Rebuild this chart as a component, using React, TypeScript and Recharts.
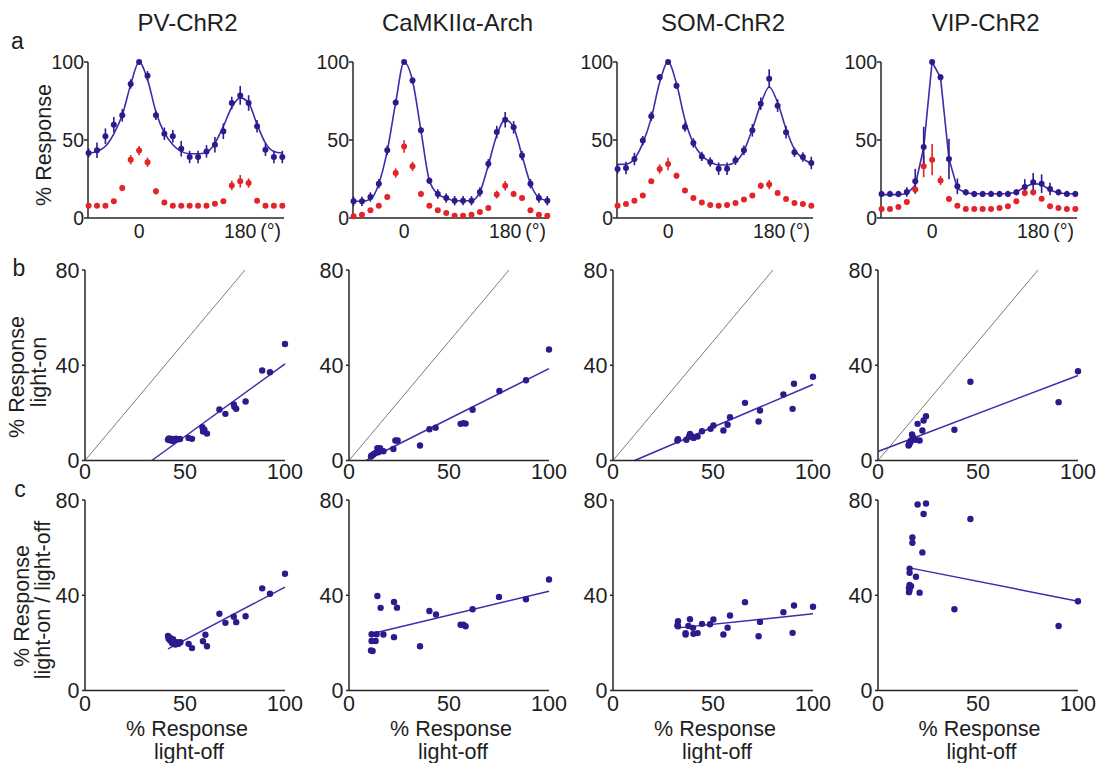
import React from 'react';
import { ComposedChart, Line, Scatter, XAxis, YAxis, ErrorBar } from 'recharts';

// ---------- shared values ----------
const ANGLES = [-90, -75, -60, -45, -30, -15, 0, 15, 30, 45, 60, 75, 90, 105, 120, 135, 150, 165, 180, 195, 210, 225, 240, 255];
const TUNING_X_TICKS = [0, 180];
const TUNING_Y_TICKS = [0, 50, 100];
const SCATTER_TICKS_X = [0, 50, 100];
const SCATTER_TICKS_Y = [0, 40, 80];
const TITLES = ['PV-ChR2', 'CaMKIIα-Arch', 'SOM-ChR2', 'VIP-ChR2'];

// ---------- row a: tuning curves ----------
const pvBlue = [41.7, 43.4, 52.4, 59.8, 65.8, 85.9, 100, 91.2, 65.8, 54, 52.4, 44.4, 39.1, 39.1, 42.7, 47, 55.6, 73.7, 78.6, 73.7, 58.8, 43.8, 39.1, 39.1];
const pvBlueErr = [3, 5, 5, 5, 4, 3, 0, 3, 3, 4, 4, 5, 4, 4, 4, 5, 5, 4, 6, 5, 4, 4, 4, 4];
const pvRed = [7.9, 7.9, 7.9, 10.7, 19.2, 37.4, 43.2, 35.7, 17.1, 10, 7.9, 7.9, 7.9, 7.9, 7.9, 9.2, 10.7, 20.9, 23.5, 22.4, 11.1, 7.9, 7.9, 7.9];
const pvRedErr = [1, 1, 1, 1.5, 2, 3, 3, 3, 2, 1.5, 1, 1, 1, 1, 1, 1, 1.5, 3, 4, 3, 1.5, 1, 1, 1];
const pvFit = [41.7, 42.7, 46, 54, 66, 85.5, 100, 88.7, 68, 54.5, 47, 42.7, 41.2, 41.2, 42, 48, 58.8, 71, 77, 73.7, 60, 48, 42.7, 41.7];

const camBlue = [10.7, 10.7, 13.5, 22, 43.4, 74.1, 100, 88.2, 56.2, 23.9, 15.4, 12.8, 11.1, 11.1, 11.1, 16.7, 34.8, 55.1, 63, 58.1, 40, 22, 12.8, 11.1];
const camBlueErr = [3, 3, 3, 3, 3, 2, 0, 2, 2, 2, 3, 3, 3, 3, 3, 3, 3, 4, 5, 4, 3, 3, 3, 3];
const camRed = [1.1, 2.1, 4.9, 7.9, 13.5, 28.8, 45.9, 33.1, 15.4, 7.9, 4.9, 3.2, 1.5, 1.5, 2.1, 3.8, 6.4, 15, 20.7, 15.4, 12.8, 4.9, 2.1, 1.5];
const camRedErr = [1, 1, 1, 1.5, 2, 3, 4, 3, 2, 1.5, 1, 1, 1, 1, 1, 1, 1.5, 2.5, 3, 2, 1.5, 1, 1, 1];
const camFit = [10.7, 10.7, 12, 22, 43, 74, 100, 88, 56, 24, 15.4, 12.8, 11.1, 11.1, 11.1, 16.7, 34, 53, 63, 58, 40, 22, 13, 11.1];

const somBlue = [31.4, 32, 37.8, 49.6, 65.2, 90.2, 100, 84.8, 58.3, 48.1, 39.5, 35.9, 31.6, 31.6, 37, 43.4, 56.2, 73.3, 89.3, 72, 54.9, 42.1, 39.1, 35.3];
const somBlueErr = [3, 4, 4, 3, 3, 2, 0, 2, 3, 3, 3, 3, 4, 4, 3, 3, 4, 4, 6, 4, 4, 3, 3, 4];
const somRed = [7.9, 9, 11.1, 14.5, 23.5, 31.4, 34.6, 27.1, 17.7, 12.8, 10, 8.3, 7.9, 8.3, 9.6, 11.8, 14.5, 20.7, 21.4, 16, 12.2, 9.6, 9, 7.9];
const somRedErr = [1, 1, 1, 1, 1.5, 3, 4, 2, 1.5, 1, 1, 1, 1, 1, 1, 1, 1, 2, 3, 1.5, 1, 1, 1, 1];
const somFit = [34.4, 34.5, 38, 48, 64, 87, 100, 86, 63, 48, 40, 36, 34, 34, 36, 43, 57, 73, 84, 74, 57, 44, 38, 35];

const vipBlue = [15.4, 15.4, 15.4, 16.7, 23.5, 45.5, 100, 90.2, 37.8, 20.3, 16.5, 15.4, 15.4, 15.4, 15.4, 15.4, 16.5, 19.9, 22.9, 22, 18.6, 16.5, 15.4, 15.4];
const vipBlueErr = [2, 2, 2, 3, 8, 13, 0, 2, 13, 5, 2, 2, 2, 2, 2, 2, 2, 5, 6, 6, 4, 2, 2, 2];
const vipRed = [5.8, 5.8, 7.1, 10.3, 18.2, 33.1, 37.4, 24.1, 12.2, 7.9, 5.8, 5.8, 5.8, 5.8, 6.4, 7.5, 10.7, 16, 16.5, 12.4, 7.5, 6.4, 5.8, 5.8];
const vipRedErr = [1, 1, 1, 1, 2, 7, 10, 3, 1, 1, 1, 1, 1, 1, 1, 1, 1, 2, 2, 1, 1, 1, 1, 1];
const vipFit = [15, 15, 15, 15.5, 21, 45, 100, 90, 38, 19, 16, 15.5, 15.5, 15.5, 15.5, 15.5, 16.5, 20, 22, 21.5, 18, 16, 15.5, 15.5];

// ---------- row b: light-on vs light-off ----------
const pvOffB = [100, 88.6, 92.5, 80.3, 74.4, 74.7, 75.6, 67.2, 70.2, 58.7, 59.7, 61, 59, 51.8, 53.5, 41.5, 42.5, 43.5, 44.5, 45.5, 46.5, 47.5, 42, 44, 45];
const pvOnB = [48.9, 37.8, 37.1, 24.8, 23.5, 22.6, 21.7, 21.4, 19.6, 14, 12.9, 11.3, 12.2, 9.5, 9.1, 8.7, 8.5, 9, 8.7, 9.2, 8.9, 9, 9.3, 8.2, 8.9];
const pvRegBx = [33.4, 100];
const pvRegBy = [0, 40.6];

const camOffB = [100, 88.5, 75.2, 61.8, 55.8, 57.2, 58.3, 43.3, 40.2, 35.5, 23.2, 24.3, 22.2, 14.2, 15.5, 17.2, 14.7, 13, 11.3, 12.2, 11];
const camOnB = [46.6, 33.7, 29.2, 21.3, 15.4, 15.7, 15.5, 13.8, 13.1, 6.3, 8.4, 8.4, 4.8, 5.2, 5.2, 3.9, 3.5, 3.1, 2.1, 2.5, 1.7];
const camRegBx = [8.5, 100];
const camRegBy = [0, 38.6];

const somOffB = [100, 90.5, 85.2, 89.8, 66, 73.5, 72.8, 58.5, 57.3, 55.2, 50.2, 48.8, 44.5, 42.3, 40.3, 38.5, 39.3, 36.7, 32.5, 32.2, 38];
const somOnB = [35.2, 32.2, 27.7, 21.7, 24.2, 21, 16.4, 18.2, 15, 12.6, 14.7, 13.3, 12.3, 10.1, 9.5, 11.2, 10.2, 8.7, 8.9, 8.4, 10];
const somRegBx = [10.8, 100];
const somRegBy = [0, 31.9];

const vipOffB = [100, 90.3, 46.2, 38.2, 24, 22.8, 19.8, 22.2, 20.8, 18.7, 17, 17.5, 16.2, 15.7, 15.3, 16.5, 15.5];
const vipOnB = [37.5, 24.5, 33.1, 12.9, 18.6, 16.8, 15.4, 12.6, 8.4, 8.7, 10.9, 9.8, 7.7, 7, 6.3, 8.4, 6.8];
const vipRegBx = [0, 100];
const vipRegBy = [3.8, 35.7];

const unityX = [0, 80];
const unityY = [0, 80];

// ---------- row c: ratio vs light-off ----------
const pvOffC = [100, 88.6, 92.5, 80.3, 74.4, 75.6, 67.2, 70.2, 60.2, 59, 61, 51.8, 53.5, 41.5, 41.8, 42.6, 44.3, 46, 45.2, 43.5, 47.7, 46.8, 42.5, 44];
const pvRatioC = [49, 42.9, 40.6, 31.2, 31, 28.7, 32.2, 28.4, 23.4, 20.7, 18.6, 19.6, 17.8, 22.9, 21.7, 21, 20.7, 20.3, 19.3, 19.9, 20.3, 19.6, 22.2, 21.5];
const pvRegCx = [41.5, 100];
const pvRegCy = [17.5, 43.4];

const camOffC = [100, 75, 88.5, 61.8, 55.8, 57.2, 58.3, 40.2, 43.5, 35.5, 22.5, 24, 14.2, 15.8, 22.5, 17.2, 11.3, 13.8, 11.3, 13.3, 11, 11.8];
const camRatioC = [46.6, 39.3, 38.3, 34.1, 27.6, 27.6, 27, 33.4, 31.9, 18.6, 37.2, 34.8, 39.7, 34.7, 22.4, 23.5, 23.6, 23.6, 20.8, 20.8, 16.8, 16.6];
const camRegCx = [11.3, 100];
const camRegCy = [23.8, 41.7];

const somOffC = [100, 90.5, 85.2, 89.8, 66, 73.5, 72.8, 58.5, 57.3, 55.2, 50.2, 48.5, 44.5, 42.3, 40, 40.2, 38.5, 37.7, 36.3, 36.3, 32.5, 32.5, 32.2];
const somRatioC = [35.2, 35.7, 32.9, 24.2, 37.1, 28.8, 22.8, 31.5, 26.4, 23.5, 29.8, 27.8, 28, 24.1, 26.3, 23.8, 29.9, 27.1, 24.1, 23.5, 29.1, 27, 27.3];
const somRegCx = [32.5, 100];
const somRegCy = [26.3, 32.2];

const vipOffC = [100, 90.3, 46.2, 38.2, 24, 19.8, 22.8, 17.2, 17.2, 22.2, 15.8, 15.8, 19, 15.8, 16.5, 15.5, 15.8, 15.5, 20.8];
const vipRatioC = [37.5, 27.1, 72, 34.1, 78.5, 78.1, 74.1, 64.3, 62, 58, 51.2, 49.4, 47.8, 44.3, 43.8, 43.1, 42.2, 41.3, 41.1];
const vipRegCx = [15.8, 100];
const vipRegCy = [51.5, 37.5];

// ---------- style ----------
const FONT = "'Liberation Sans', Arial, Helvetica, sans-serif";
const AXIS = '#262626';
const TXT = '#1e1e1e';
const DOT = '#2e1a8c';
const LINE = '#3d2cab';
const RED = '#e4232b';
const GREY = '#7c7c7c';

const A_LEFTS = [88, 352.7, 617.3, 881];
const BC_LEFTS = [85, 349, 613.3, 877.7];
const A_TOP = 62.3;
const A_H = 156;
const A_W = 196;
const B_TOP = 269.5;
const C_TOP = 499.5;
const BC_H = 190.5;
const BC_W = 200;

const zip = (xs: number[], ys: number[]) => xs.map((x, i) => ({ x, y: ys[i] }));
const dotShape = (color: string, r: number) => (p: any) => (
  <circle cx={p.cx} cy={p.cy} r={r} fill={color} stroke="none" />
);

const AngleTick = (props: any) => {
  const { x, y, payload } = props;
  return (
    <g>
      <text x={x} y={y} dy="0.71em" textAnchor="middle" fontSize={19.5} fontFamily={FONT} fill={TXT}>
        {payload.value}
      </text>
      {payload.value === 180 && (
        <text x={x + 20} y={y} dy="0.71em" textAnchor="start" fontSize={19.5} fontFamily={FONT} fill={TXT}>
          (°)
        </text>
      )}
    </g>
  );
};

type TuningProps = {
  left: number;
  blue: number[];
  blueErr: number[];
  red: number[];
  redErr: number[];
  fit: number[];
  curve: 'monotone' | 'linear';
};

function TuningPanel({ left, blue, blueErr, red, redErr, fit, curve }: TuningProps) {
  const blueData = ANGLES.map((a, i) => ({ x: a, y: blue[i], e: blueErr[i] }));
  const redData = ANGLES.map((a, i) => ({ x: a, y: red[i], e: redErr[i] }));
  const fitData = ANGLES.map((a, i) => ({ x: a, y: fit[i] }));
  return (
    <div style={{ position: 'absolute', left: left - 60, top: A_TOP - 10 }}>
      <ComposedChart width={60 + A_W + 30} height={10 + A_H + 40} margin={{ top: 10, right: 30, left: 0, bottom: 0 }}>
        <XAxis
          type="number"
          dataKey="x"
          domain={[-91, 258]}
          ticks={TUNING_X_TICKS}
          interval={0}
          height={40}
          tickLine={false}
          tickSize={0}
          tickMargin={6}
          axisLine={{ stroke: AXIS, strokeWidth: 1.5 }}
          tick={AngleTick}
        />
        <YAxis
          type="number"
          dataKey="y"
          domain={[0, 100]}
          ticks={TUNING_Y_TICKS}
          interval={0}
          width={60}
          tickSize={4}
          tickMargin={0}
          axisLine={{ stroke: AXIS, strokeWidth: 1.5 }}
          tickLine={{ stroke: AXIS, strokeWidth: 1.5 }}
          tick={{ fontSize: 19.5, fontFamily: FONT, fill: TXT }}
        />
        <Line data={fitData} dataKey="y" type={curve} stroke={LINE} strokeWidth={1.6} dot={false} activeDot={false} isAnimationActive={false} />
        <Scatter data={redData} dataKey="y" shape={dotShape(RED, 3)} isAnimationActive={false}>
          <ErrorBar dataKey="e" direction="y" width={0} stroke={RED} strokeWidth={1.6} isAnimationActive={false} />
        </Scatter>
        <Scatter data={blueData} dataKey="y" shape={dotShape(DOT, 3)} isAnimationActive={false}>
          <ErrorBar dataKey="e" direction="y" width={0} stroke={DOT} strokeWidth={1.6} isAnimationActive={false} />
        </Scatter>
      </ComposedChart>
    </div>
  );
}

type ScatterProps = {
  left: number;
  top: number;
  xs: number[];
  ys: number[];
  regX: number[];
  regY: number[];
  unity?: boolean;
  xTickMargin: number;
};

function ScatterPanel({ left, top, xs, ys, regX, regY, unity, xTickMargin }: ScatterProps) {
  const pts = zip(xs, ys);
  const reg = zip(regX, regY);
  const diag = zip(unityX, unityY);
  return (
    <div style={{ position: 'absolute', left: left - 60, top: top - 10 }}>
      <ComposedChart width={60 + BC_W + 30} height={10 + BC_H + 40} margin={{ top: 10, right: 30, left: 0, bottom: 0 }}>
        <XAxis
          type="number"
          dataKey="x"
          domain={[0, 100]}
          ticks={SCATTER_TICKS_X}
          interval={0}
          height={40}
          tickLine={false}
          tickSize={0}
          tickMargin={xTickMargin}
          axisLine={{ stroke: AXIS, strokeWidth: 1.5 }}
          tick={{ fontSize: 21.5, fontFamily: FONT, fill: TXT }}
        />
        <YAxis
          type="number"
          dataKey="y"
          domain={[0, 80]}
          ticks={SCATTER_TICKS_Y}
          interval={0}
          width={60}
          tickSize={3}
          tickMargin={2.5}
          axisLine={{ stroke: AXIS, strokeWidth: 1.5 }}
          tickLine={{ stroke: AXIS, strokeWidth: 1.5 }}
          tick={{ fontSize: 21.5, fontFamily: FONT, fill: TXT }}
        />
        {unity && (
          <Line data={diag} dataKey="y" type="linear" stroke={GREY} strokeWidth={1} dot={false} activeDot={false} isAnimationActive={false} />
        )}
        <Line data={reg} dataKey="y" type="linear" stroke={LINE} strokeWidth={1.5} dot={false} activeDot={false} isAnimationActive={false} />
        <Scatter data={pts} dataKey="y" shape={dotShape(DOT, 3.2)} isAnimationActive={false} />
      </ComposedChart>
    </div>
  );
}

const TITLE_X = [187.5, 457.5, 723, 985.7];
const XLABEL_X = [187, 451, 715, 979.5];

export default function App() {
  return (
    <div style={{ position: 'absolute', left: 0, top: 0, width: 1098, height: 763, background: '#fff', overflow: 'hidden' }}>
      <TuningPanel left={A_LEFTS[0]} blue={pvBlue} blueErr={pvBlueErr} red={pvRed} redErr={pvRedErr} fit={pvFit} curve="monotone" />
      <TuningPanel left={A_LEFTS[1]} blue={camBlue} blueErr={camBlueErr} red={camRed} redErr={camRedErr} fit={camFit} curve="monotone" />
      <TuningPanel left={A_LEFTS[2]} blue={somBlue} blueErr={somBlueErr} red={somRed} redErr={somRedErr} fit={somFit} curve="monotone" />
      <TuningPanel left={A_LEFTS[3]} blue={vipBlue} blueErr={vipBlueErr} red={vipRed} redErr={vipRedErr} fit={vipFit} curve="linear" />

      <ScatterPanel left={BC_LEFTS[0]} top={B_TOP} xs={pvOffB} ys={pvOnB} regX={pvRegBx} regY={pvRegBy} unity xTickMargin={3} />
      <ScatterPanel left={BC_LEFTS[1]} top={B_TOP} xs={camOffB} ys={camOnB} regX={camRegBx} regY={camRegBy} unity xTickMargin={3} />
      <ScatterPanel left={BC_LEFTS[2]} top={B_TOP} xs={somOffB} ys={somOnB} regX={somRegBx} regY={somRegBy} unity xTickMargin={3} />
      <ScatterPanel left={BC_LEFTS[3]} top={B_TOP} xs={vipOffB} ys={vipOnB} regX={vipRegBx} regY={vipRegBy} unity xTickMargin={3} />

      <ScatterPanel left={BC_LEFTS[0]} top={C_TOP} xs={pvOffC} ys={pvRatioC} regX={pvRegCx} regY={pvRegCy} xTickMargin={5.5} />
      <ScatterPanel left={BC_LEFTS[1]} top={C_TOP} xs={camOffC} ys={camRatioC} regX={camRegCx} regY={camRegCy} xTickMargin={5.5} />
      <ScatterPanel left={BC_LEFTS[2]} top={C_TOP} xs={somOffC} ys={somRatioC} regX={somRegCx} regY={somRegCy} xTickMargin={5.5} />
      <ScatterPanel left={BC_LEFTS[3]} top={C_TOP} xs={vipOffC} ys={vipRatioC} regX={vipRegCx} regY={vipRegCy} xTickMargin={5.5} />

      <svg width={1098} height={763} style={{ position: 'absolute', left: 0, top: 0, pointerEvents: 'none' }} fontFamily={FONT} fill={TXT}>
        {TITLES.map((t, i) => (
          <text key={t} x={TITLE_X[i]} y={30.5} textAnchor="middle" fontSize={24}>
            {t}
          </text>
        ))}
        <text x={17.5} y={49} textAnchor="middle" fontSize={23}>a</text>
        <text x={19} y={276} textAnchor="middle" fontSize={23}>b</text>
        <text x={20} y={497} textAnchor="middle" fontSize={23}>c</text>

        <text transform="translate(51,145) rotate(-90)" textAnchor="middle" fontSize={21.5}>% Response</text>

        <text transform="translate(24,377) rotate(-90)" textAnchor="middle" fontSize={21.5}>% Response</text>
        <text transform="translate(46,372) rotate(-90)" textAnchor="middle" fontSize={21.5}>light-on</text>

        <text transform="translate(29,606) rotate(-90)" textAnchor="middle" fontSize={21.5}>% Response</text>
        <text transform="translate(49.5,600) rotate(-90)" textAnchor="middle" fontSize={21.5}>light-on / light-off</text>

        {XLABEL_X.map((x, i) => (
          <g key={i}>
            <text x={x} y={735.5} textAnchor="middle" fontSize={21.5}>% Response</text>
            <text x={x + 2} y={759} textAnchor="middle" fontSize={21.5}>light-off</text>
          </g>
        ))}
      </svg>
    </div>
  );
}
